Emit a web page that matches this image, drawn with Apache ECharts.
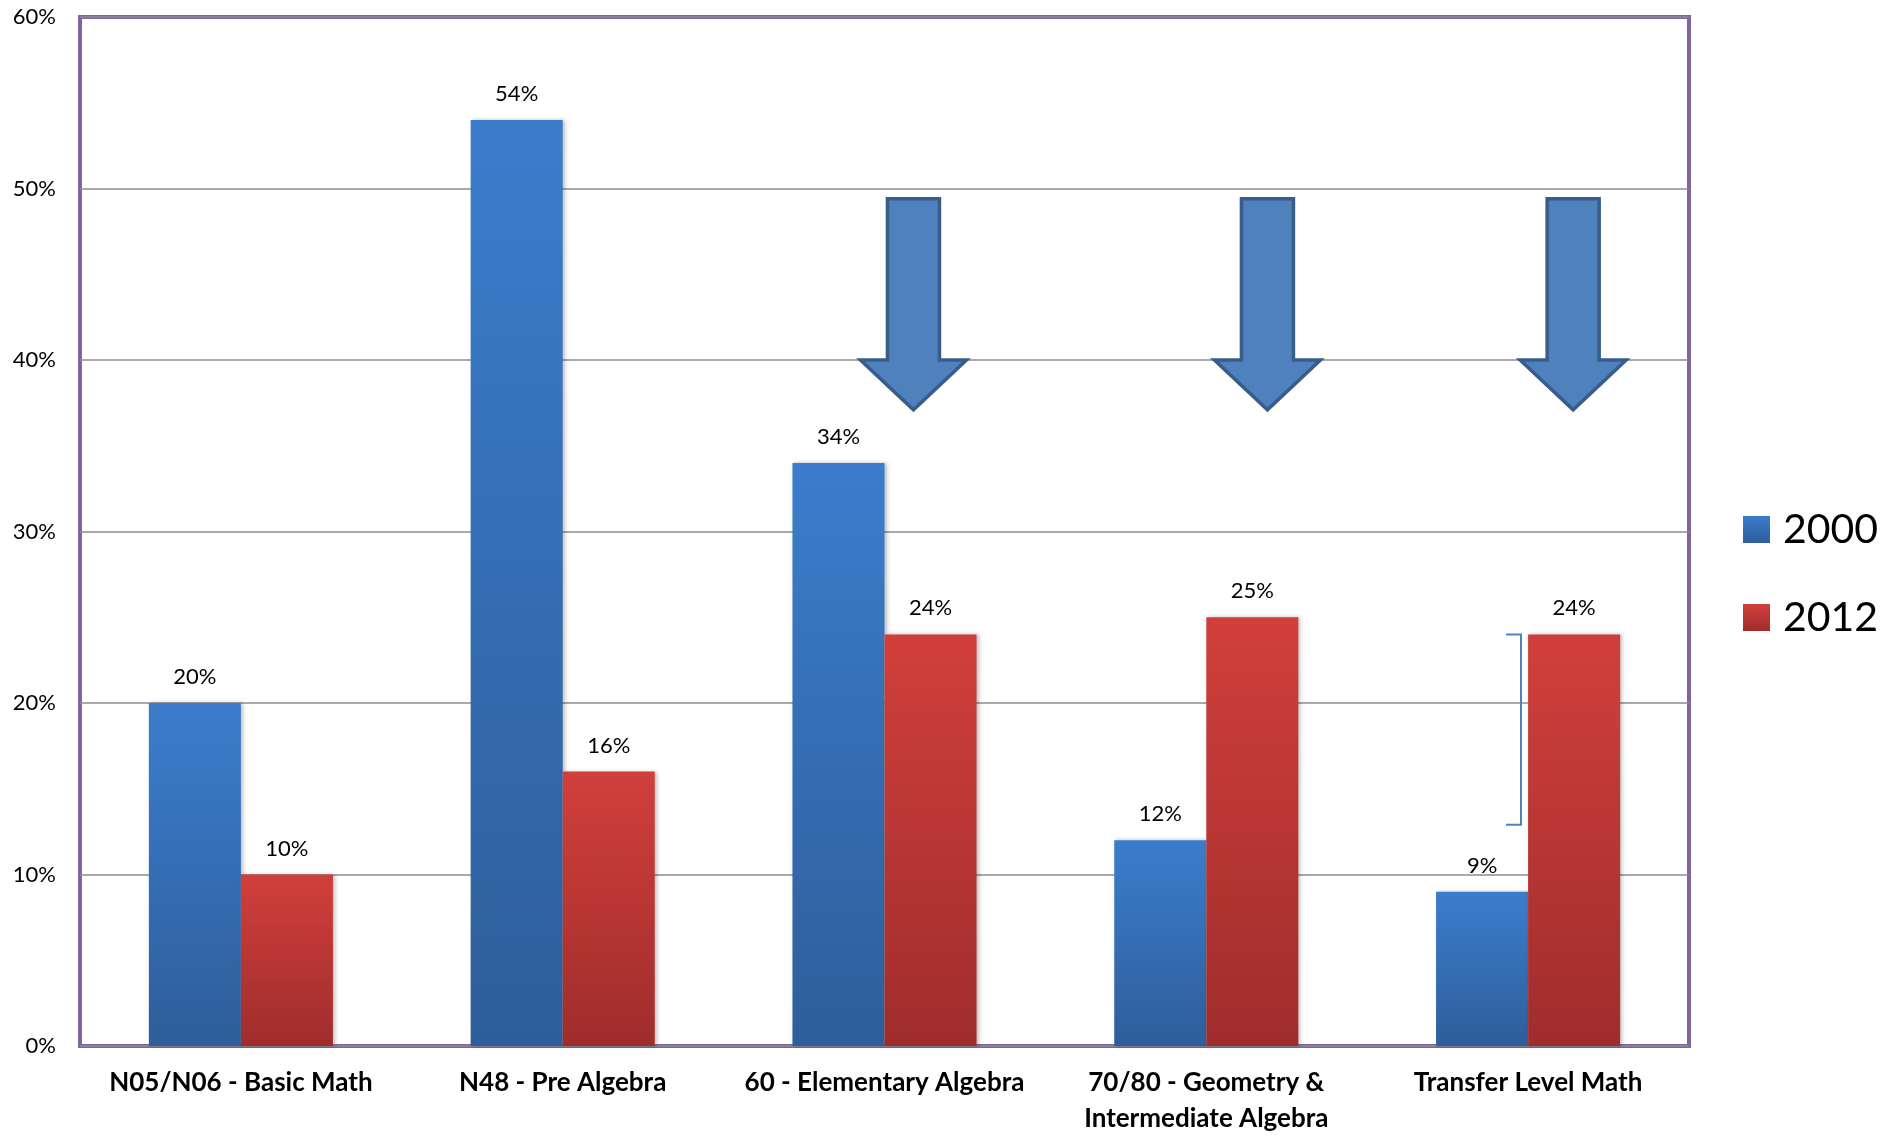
<!DOCTYPE html>
<html>
<head>
<meta charset="utf-8">
<script src="https://cdn.jsdelivr.net/npm/echarts@6/dist/echarts.min.js"></script>
<style>
  html, body { margin: 0; padding: 0; background: #fff; }
  #main { width: 1885px; height: 1136px; }
</style>
</head>
<body>
<div id="main"></div>
<script>
var categories = ['N05/N06 - Basic Math', 'N48 - Pre Algebra', '60 - Elementary Algebra',
    '70/80 - Geometry &\nIntermediate Algebra', 'Transfer Level Math'];
var values2000 = [20, 54, 34, 12, 9];
var values2012 = [10, 16, 24, 25, 24];

// 下箭头的位置（类目序号 + 偏移），以及顶部/箭头起点/尖端的数值
var arrowSpots = [2.09, 3.19, 4.14];
var arrowTop = 49.4, arrowHead = 40, arrowTip = 37.1;
// 右侧括号：类目位置及上下数值
var bracketSpot = 3.978, bracketTop = 24, bracketBottom = 12.9;

var myChart = echarts.init(document.getElementById('main'));

function grad(top, bottom) {
    return new echarts.graphic.LinearGradient(0, 0, 0, 1, [
        { offset: 0, color: top },
        { offset: 1, color: bottom }
    ]);
}

var labelStyle = {
    show: true,
    position: 'top',
    distance: 15,
    formatter: '{c}%',
    fontFamily: 'Lato',
    fontSize: 22,
    color: '#000'
};

var option = {
    animation: false,
    grid: {
        left: 80, top: 17, right: 196, bottom: 90,
        outerBoundsMode: 'none',
        containLabel: false,
        show: true,
        borderColor: '#8064A2',
        borderWidth: 4,
        backgroundColor: '#fff'
    },
    legend: {
        orient: 'vertical',
        left: 1743,
        top: 509,
        padding: 0,
        itemWidth: 27,
        itemHeight: 27,
        itemGap: 47,
        icon: 'rect',
        textStyle: { fontFamily: 'Lato', fontSize: 41, color: '#000', padding: [0, 0, 0, 8] },
        data: ['2000', '2012']
    },
    xAxis: {
        type: 'category',
        data: categories,
        axisLine: { show: false },
        axisTick: { show: false },
        axisLabel: {
            interval: 0,
            margin: 19,
            fontFamily: 'Lato',
            fontWeight: 'bold',
            fontSize: 26,
            lineHeight: 36,
            color: '#000'
        }
    },
    yAxis: {
        type: 'value',
        min: 0,
        max: 60,
        interval: 10,
        axisLine: { show: false },
        axisTick: { show: false },
        axisLabel: {
            formatter: '{value}%',
            margin: 24,
            fontFamily: 'Lato',
            fontSize: 22,
            color: '#000'
        },
        splitLine: { lineStyle: { color: '#8c8c8c', width: 1.5 } }
    },
    series: [
        {
            name: '2000',
            type: 'bar',
            data: values2000,
            barWidth: '28.6%',
            barGap: '0%',
            label: labelStyle,
            itemStyle: {
                color: grad('#3b7dcc', '#2e5e9a'),
                shadowColor: 'rgba(0,0,0,0.25)',
                shadowBlur: 4,
                shadowOffsetX: 2
            }
        },
        {
            name: '2012',
            type: 'bar',
            data: values2012,
            barWidth: '28.6%',
            label: labelStyle,
            itemStyle: {
                color: grad('#d13f3b', '#9f2d2c'),
                shadowColor: 'rgba(0,0,0,0.25)',
                shadowBlur: 4,
                shadowOffsetX: 2
            }
        }
    ]
};

myChart.setOption(option);

// 类目轴上的小数位置换算成像素
function catX(pos) {
    var i = Math.floor(pos);
    var a = myChart.convertToPixel({ xAxisIndex: 0 }, i);
    var b = myChart.convertToPixel({ xAxisIndex: 0 }, i + 1);
    return a + (b - a) * (pos - i);
}
function valY(v) {
    return myChart.convertToPixel({ yAxisIndex: 0 }, v);
}

var shapes = [];
arrowSpots.forEach(function (spot) {
    var cx = catX(spot);
    var yTop = valY(arrowTop), yHead = valY(arrowHead), yTip = valY(arrowTip);
    var sw = 26, hw = 53;
    shapes.push({
        type: 'polygon',
        z: 100,
        shape: {
            points: [
                [cx - sw, yTop], [cx + sw, yTop], [cx + sw, yHead], [cx + hw, yHead],
                [cx, yTip], [cx - hw, yHead], [cx - sw, yHead]
            ]
        },
        style: { fill: '#4f81bd', stroke: '#385d8a', lineWidth: 3.5, lineJoin: 'miter' }
    });
});

var bx = catX(bracketSpot);
var by1 = valY(bracketTop), by2 = valY(bracketBottom);
shapes.push({
    type: 'polyline',
    z: 100,
    shape: { points: [[bx - 15, by1], [bx, by1], [bx, by2], [bx - 15, by2]] },
    style: { fill: null, stroke: '#4f81bd', lineWidth: 2 }
});

myChart.setOption({ graphic: shapes });
</script>
</body>
</html>
